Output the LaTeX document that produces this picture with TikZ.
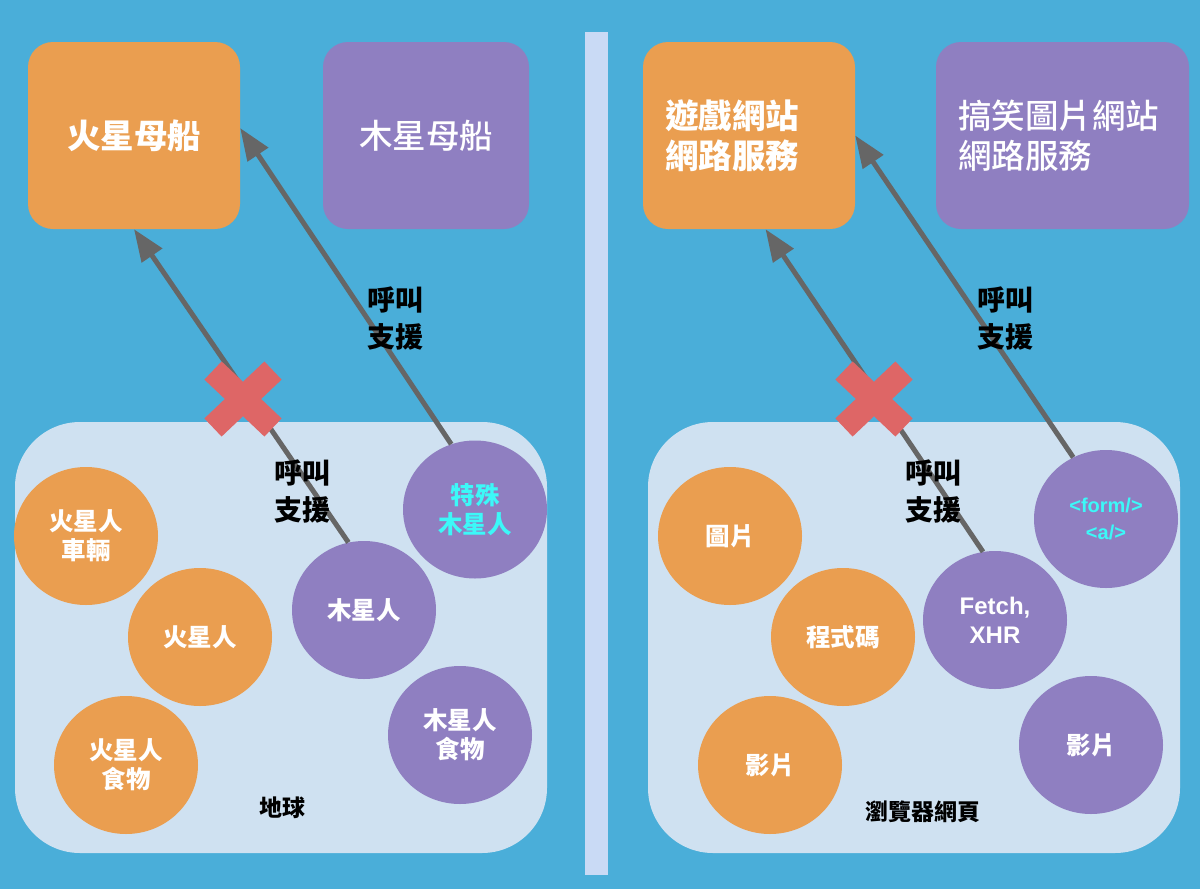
\documentclass[tikz,border=0pt]{standalone}
\usepackage{fontspec}
\setmainfont{Noto Sans CJK TC}
\newfontfamily\latinfont{Liberation Sans}
\newfontfamily\midfont{Noto Sans CJK TC Medium}
\usetikzlibrary{arrows.meta,shapes.geometric,shapes.misc}
\definecolor{skyblue}{HTML}{4AAED9}
\definecolor{marsorange}{HTML}{EA9E50}
\definecolor{jupviolet}{HTML}{8F7FC1}
\definecolor{groundblue}{HTML}{CFE1F1}
\definecolor{splitblue}{HTML}{C9DAF5}
\definecolor{linegray}{HTML}{666666}
\definecolor{crossred}{HTML}{DE6666}
\definecolor{specialcyan}{HTML}{3CF8F8}

\begin{document}
\begin{tikzpicture}[
  x=1pt, y=-1pt,
  >={Triangle[length=32pt,width=24pt]},
  ship/.style={rectangle, rounded corners=25pt, minimum width=212pt, minimum height=187pt, inner sep=0pt, text=white, font=\midfont\fontsize{33.5}{40}\selectfont},
  ground/.style={rectangle, fill=groundblue, rounded corners=65pt, minimum width=532pt, minimum height=431pt},
  being/.style={ellipse, minimum width=144pt, minimum height=138pt, inner sep=0pt, align=center, text=white, font=\fontsize{24.5}{29}\selectfont\bfseries},
  mars/.style={being, fill=marsorange},
  jup/.style={being, fill=jupviolet},
  call/.style={align=center, font=\fontsize{28}{37}\selectfont\bfseries},
  place/.style={font=\fontsize{23}{28}\selectfont\bfseries},
  flow/.style={->, draw=linegray, line width=5pt},
  block/.style={cross out, draw=crossred, line width=25pt, minimum width=60pt, minimum height=57pt, inner sep=0pt, outer sep=0pt}
]
  \fill[skyblue] (0,0) rectangle (1200,889);
  \fill[splitblue] (585,32) rectangle (608,875);

  % left: mars and jupiter
  \node[ground] (earth) at (281,637.5) {};
  \node[place] (earthname) at (282,808) {地球};
  \node[ship, fill=marsorange, font=\fontsize{33.5}{40}\selectfont\bfseries] (mship) at (134,135.5) {火星母船};
  \node[ship, fill=jupviolet, minimum width=206pt] (jship) at (426,135.5) {木星母船};
  \node[mars] (mcar) at (86,536) {火星人\\車輛};
  \node[mars] (mman) at (200,637) {火星人};
  \node[mars] (mfood) at (126,765) {火星人\\食物};
  \node[jup] (jman) at (364,610) {木星人};
  \node[jup] (jfood) at (460,735) {木星人\\食物};
  \node[jup, text=specialcyan] (jspecial) at (475,509.5) {特殊\\木星人};

  % right: browser page
  \node[ground] (page) at (914,637.5) {};
  \node[place] (pagename) at (923,812) {瀏覽器網頁};
  \node[ship, fill=marsorange, align=left, text width=168pt, inner xsep=22pt, font=\fontsize{33.5}{40}\selectfont\bfseries] (gsite) at (749,135.5) {遊戲網站\\網路服務};
  \node[ship, fill=jupviolet, align=left, text width=209pt, inner xsep=22pt] (fsite) at (1062.5,135.5) {搞笑圖片網站\\網路服務};
  \node[mars] (img) at (730,536) {圖片};
  \node[mars] (code) at (843,637) {程式碼};
  \node[mars] (video) at (770,765) {影片};
  \node[jup, font=\latinfont\fontsize{24}{29}\selectfont\bfseries] (fetch) at (995,620) {Fetch,\\XHR};
  \node[jup] (jvideo) at (1091,745) {影片};
  \node[jup, text=specialcyan, font=\latinfont\fontsize{20}{27}\selectfont\bfseries] (form) at (1106,519) {<form/>\\<a/>};

  \draw[flow] (jman.103) -- (mship.south);
  \draw[flow] (jspecial.110) -- (mship.4);
  \draw[flow] (fetch.100) -- (gsite.-80);
  \draw[flow] (form.118) -- (gsite.east);

  \node[block] (xl) at (243,399) {};
  \node[block] (xr) at (874,399) {};

  \node[call] (lcall) at (302,491) {呼叫\\支援};
  \node[call] (lspecial) at (395,318) {呼叫\\支援};
  \node[call] (rcall) at (933,491) {呼叫\\支援};
  \node[call] (rspecial) at (1005,318) {呼叫\\支援};
\end{tikzpicture}
\end{document}
